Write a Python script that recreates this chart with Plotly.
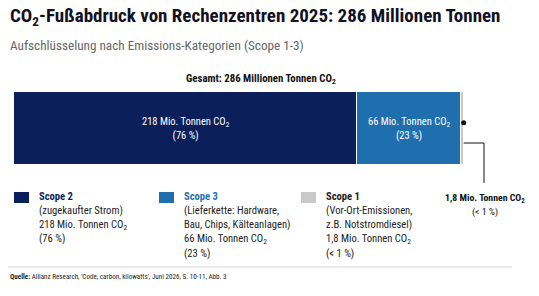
import plotly.graph_objects as go

categories = ["Scope 2", "Scope 3", "Scope 1"]
values = [218, 66, 1.8]
shares = ["76 %", "23 %", "< 1 %"]
descriptions = [["(zugekaufter Strom)"],
                ["(Lieferkette: Hardware,", "Bau, Chips, Kälteanlagen)"],
                ["(Vor-Ort-Emissionen,", "z.B. Notstromdiesel)"]]
colors = ["#0b1f5b", "#1f6fae", "#c9c9c9"]
title_colors = ["#0b1f5b", "#1f6fae", "#222222"]
total_label = 286

FONT = "Liberation Sans Narrow, Roboto Condensed, Arial Narrow, sans-serif"
W, H = 539, 296
L, R, T, B = 14, 75, 92, 131
PW, PH = W - L - R, H - T - B


def fx(px):
    return (px - L) / PW


def fy(py):
    return (H - B - py) / PH


def fmt(v):
    return f"{v:g}".replace(".", ",")


fig = go.Figure()
for c, v, col in zip(categories, values, colors):
    fig.add_trace(go.Bar(x=[v], y=[0], orientation="h", name=c,
                         marker=dict(color=col, line=dict(width=1, color="white")),
                         width=1, showlegend=False, hoverinfo="skip"))

ann = []
shapes = []
ann.append(dict(x=fx(8), y=fy(17), xref="paper", yref="paper", xanchor="left", yanchor="middle",
                text="<b>CO<sub>2</sub>-Fußabdruck von Rechenzentren 2025: 286 Millionen Tonnen</b>",
                font=dict(family=FONT, size=19, color="#111122"), showarrow=False))
ann.append(dict(x=fx(8), y=fy(45), xref="paper", yref="paper", xanchor="left", yanchor="middle",
                text="Aufschlüsselung nach Emissions-Kategorien (Scope 1-3)",
                font=dict(family=FONT, size=13.2, color="#666666"), showarrow=False))
ann.append(dict(x=fx(261), y=fy(79), xref="paper", yref="paper",
                xanchor="center", yanchor="middle",
                text=f"<b>Gesamt: {total_label} Millionen Tonnen CO<sub>2</sub></b>",
                font=dict(family=FONT, size=10.8, color="#111111"), showarrow=False))

cum = 0
for i, v in enumerate(values):
    mid = cum + v / 2
    cum += v
    if i < 2:
        ann.append(dict(x=mid, y=0, xref="x", yref="y", xanchor="center", yanchor="middle",
                        text=f"{fmt(v)} Mio. Tonnen CO<sub>2</sub><br>({shares[i]})",
                        font=dict(family=FONT, size=10.5, color="white"), showarrow=False))
total = sum(values)

fig.add_trace(go.Scatter(x=[total], y=[0.08], mode="markers", marker=dict(color="#111111", size=5),
                         showlegend=False, hoverinfo="skip", cliponaxis=False))
shapes.append(dict(type="path", xref="paper", yref="paper",
                   path=f"M {total / total_label} {fy(143)} L {fx(484)} {fy(143)} L {fx(484)} {fy(183)}",
                   line=dict(color="#111111", width=1)))
ann.append(dict(x=fx(485), y=fy(198), xref="paper", yref="paper", xanchor="center", yanchor="middle",
                text=f"<b>{fmt(values[2])} Mio. Tonnen CO<sub>2</sub></b>",
                font=dict(family=FONT, size=9.8, color="#111111"), showarrow=False))
ann.append(dict(x=fx(485), y=fy(212), xref="paper", yref="paper", xanchor="center", yanchor="middle",
                text=f"({shares[2]})",
                font=dict(family=FONT, size=9.8, color="#111111"), showarrow=False))

sq_x = [14, 159, 301]
for i, c in enumerate(categories):
    x0 = sq_x[i]
    shapes.append(dict(type="rect", xref="paper", yref="paper", x0=fx(x0), x1=fx(x0 + 15),
                       y0=fy(192), y1=fy(203), fillcolor=colors[i], line=dict(width=0)))
    lines = [f"<b>{c}</b>"] + descriptions[i] + [f"{fmt(values[i])} Mio. Tonnen CO<sub>2</sub>", f"({shares[i]})"]
    for j, t in enumerate(lines):
        ann.append(dict(x=fx(x0 + 23), y=fy(196 + j * 14.3), xref="paper", yref="paper",
                        xanchor="left", yanchor="middle", text=t,
                        font=dict(family=FONT, size=10.6, color=title_colors[i] if j == 0 else "#222222"),
                        showarrow=False))

shapes.append(dict(type="line", xref="paper", yref="paper", x0=fx(8), x1=fx(512), y0=fy(267), y1=fy(267),
                   line=dict(color="#e3e3e3", width=1.5)))
ann.append(dict(x=fx(8), y=fy(276), xref="paper", yref="paper", xanchor="left", yanchor="middle",
                text="<b>Quelle:</b> Allianz Research, 'Code, carbon, kilowatts', Juni 2026, S. 10-11, Abb. 3",
                font=dict(family=FONT, size=7.1, color="#222222"), showarrow=False))

fig.update_layout(
    width=W, height=H, margin=dict(l=L, r=R, t=T, b=B),
    barmode="stack", bargap=0,
    paper_bgcolor="white", plot_bgcolor="white",
    xaxis=dict(range=[0, total_label], visible=False, fixedrange=True),
    yaxis=dict(range=[-0.5, 0.5], visible=False, fixedrange=True),
    annotations=ann, shapes=shapes,
)
fig.write_html("out.html", config={"displayModeBar": False})
